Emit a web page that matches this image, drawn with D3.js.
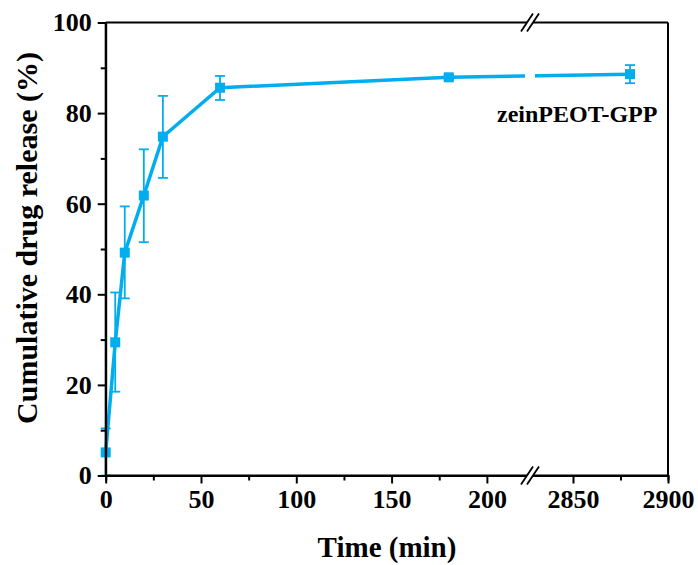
<!DOCTYPE html>
<html>
<head>
<meta charset="utf-8">
<script src="https://cdn.jsdelivr.net/npm/d3@7/dist/d3.min.js"></script>
<style>
  body { margin: 0; background: #fff; }
  text { font-family: "Liberation Serif", "Times New Roman", serif; font-weight: bold; fill: #000; }
</style>
</head>
<body>
<div id="chart"></div>
<script>
// data
var times   = [0, 5, 10, 20, 30, 60, 180, 2880];
var release = [5.1, 29.4, 49.2, 61.8, 74.8, 85.6, 87.9, 88.6];
var errLow  = [0, 18.5, 39.1, 51.5, 65.7, 82.9, 87.4, 86.6];
var errHigh = [10.4, 40.4, 59.4, 72.0, 83.8, 88.2, 88.4, 90.6];

var xMajor = [0, 50, 100, 150, 200, 2850, 2900];
var xMinor = [25, 75, 125, 175, 2875];
var yMajor = [0, 20, 40, 60, 80, 100];
var yMinor = [10, 30, 50, 70, 90];

var seriesName = "zeinPEOT-GPP";
var colour = "#00aeef";

var W = 698, H = 565;
var margin = {top: 22.5, right: 30, bottom: 89.5, left: 105.7};
var pL = margin.left, pR = W - margin.right,
    pT = margin.top, pB = H - margin.bottom;

// broken x axis: 0..220 then 2830..2900, same px per minute
var breakL = 525, breakR = 535;
var x = d3.scaleLinear()
  .domain([0, 220, 2830, 2900])
  .range([pL, breakL, breakR, pR]);
var y = d3.scaleLinear().domain([0, 100]).range([pB, pT]);

var svg = d3.select("#chart").append("svg")
  .attr("width", W).attr("height", H);

var data = times.map(function(t, i) {
  return {t: t, v: release[i], lo: errLow[i], hi: errHigh[i]};
});

// clip the line at the axis break
var defs = svg.append("defs");
var clip = defs.append("clipPath").attr("id", "brk");
clip.append("rect").attr("x", 0).attr("y", 0).attr("width", breakL).attr("height", H);
clip.append("rect").attr("x", breakR).attr("y", 0).attr("width", W - breakR).attr("height", H);

// error bars
var eb = svg.append("g").attr("stroke", colour).attr("stroke-width", 1.8);
eb.selectAll("line.v").data(data).enter().append("line")
  .attr("x1", function(d) { return x(d.t); })
  .attr("x2", function(d) { return x(d.t); })
  .attr("y1", function(d) { return y(d.lo); })
  .attr("y2", function(d) { return y(d.hi); });
eb.selectAll("line.hi").data(data).enter().append("line")
  .attr("x1", function(d) { return x(d.t) - 5; })
  .attr("x2", function(d) { return x(d.t) + 5; })
  .attr("y1", function(d) { return y(d.hi); })
  .attr("y2", function(d) { return y(d.hi); });
eb.selectAll("line.lo").data(data).enter().append("line")
  .attr("x1", function(d) { return x(d.t) - 5; })
  .attr("x2", function(d) { return x(d.t) + 5; })
  .attr("y1", function(d) { return y(d.lo); })
  .attr("y2", function(d) { return y(d.lo); });

// connecting line
var line = d3.line()
  .x(function(d) { return x(d.t); })
  .y(function(d) { return y(d.v); });
svg.append("path")
  .datum(data)
  .attr("clip-path", "url(#brk)")
  .attr("fill", "none")
  .attr("stroke", colour)
  .attr("stroke-width", 3.5)
  .attr("d", line);

// square markers
svg.append("g").selectAll("rect").data(data).enter().append("rect")
  .attr("x", function(d) { return x(d.t) - 5; })
  .attr("y", function(d) { return y(d.v) - 5; })
  .attr("width", 10).attr("height", 10)
  .attr("fill", colour);

// axes
var axes = svg.append("g");
var xAxis = axes.append("g").attr("transform", "translate(0," + pB + ")")
  .call(d3.axisBottom(x).tickValues(xMajor).tickSize(8).tickPadding(6).tickFormat(d3.format("d")));
axes.append("g").attr("transform", "translate(0," + pB + ")")
  .call(d3.axisBottom(x).tickValues(xMinor).tickSize(5).tickFormat(""));
var yAxis = axes.append("g").attr("transform", "translate(" + pL + ",0)")
  .call(d3.axisLeft(y).tickValues(yMajor).tickSize(8).tickPadding(6));
axes.append("g").attr("transform", "translate(" + pL + ",0)")
  .call(d3.axisLeft(y).tickValues(yMinor).tickSize(5).tickFormat(""));

axes.selectAll(".domain").attr("stroke", "#000").attr("stroke-width", 2);
axes.selectAll(".tick line").attr("stroke", "#000").attr("stroke-width", 2);
axes.selectAll(".tick text").style("font-size", "26px")
  .style("font-family", "Liberation Serif").style("font-weight", "bold");
xAxis.selectAll(".domain").attr("d", "M" + pL + ",0H" + pR);
yAxis.selectAll(".domain").attr("d", "M0," + pB + "V" + pT);

// top and right frame
axes.append("line").attr("x1", pL).attr("x2", pR).attr("y1", pT).attr("y2", pT)
  .attr("stroke", "#000").attr("stroke-width", 2);
axes.append("line").attr("x1", pR).attr("x2", pR).attr("y1", pT).attr("y2", pB)
  .attr("stroke", "#000").attr("stroke-width", 2);

// break marks on the top and bottom axes
[pT, pB].forEach(function(yy) {
  var mid = (breakL + breakR) / 2;
  svg.append("rect").attr("x", mid - 3).attr("y", yy - 3).attr("width", 6).attr("height", 6)
    .attr("fill", "#fff");
  [-3, 3].forEach(function(dx) {
    svg.append("line")
      .attr("x1", mid + dx - 6).attr("y1", yy + 9)
      .attr("x2", mid + dx + 6).attr("y2", yy - 9)
      .attr("stroke", "#000").attr("stroke-width", 1.8);
  });
});

// axis titles
svg.append("text")
  .attr("x", 387).attr("y", 557)
  .attr("text-anchor", "middle")
  .style("font-size", "29px")
  .text("Time (min)");
svg.append("text")
  .attr("transform", "translate(37,238) rotate(-90)")
  .attr("text-anchor", "middle")
  .style("font-size", "30px")
  .text("Cumulative drug release (%)");

// series label
svg.append("text")
  .attr("x", 497).attr("y", 122)
  .style("font-size", "24px")
  .text(seriesName);
</script>
</body>
</html>
